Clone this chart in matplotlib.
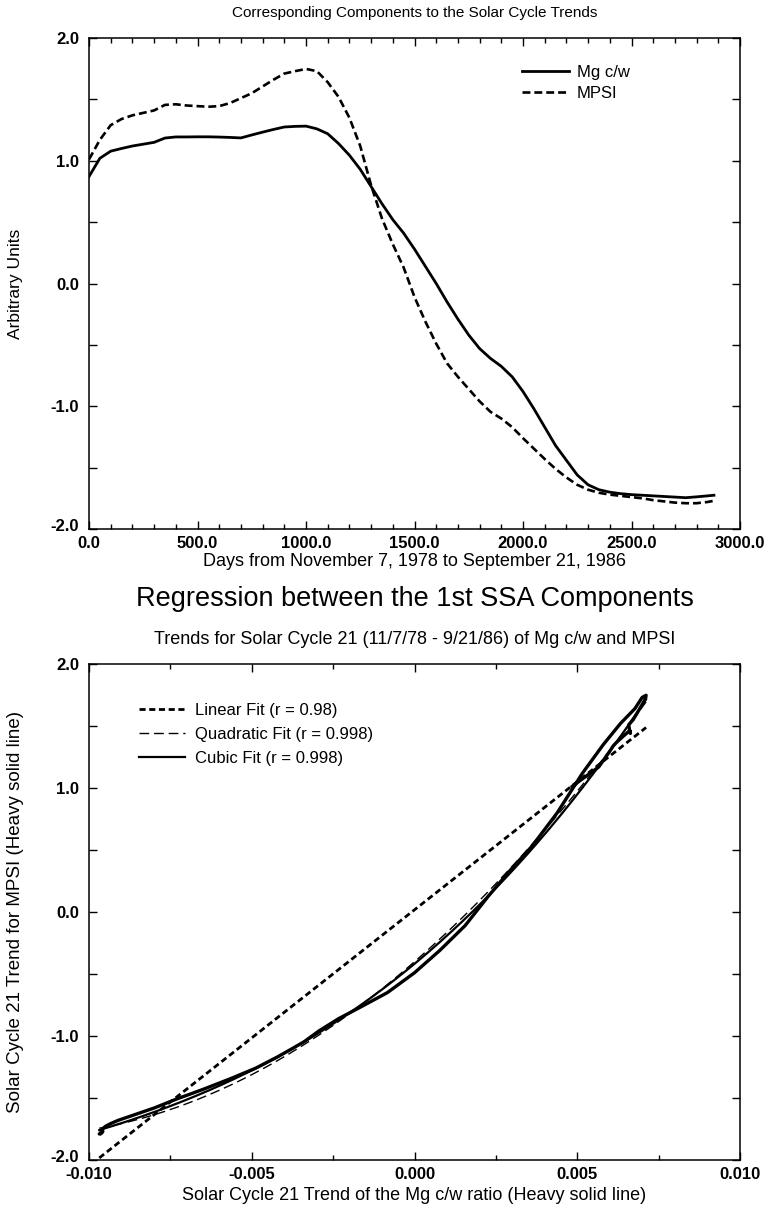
import numpy as np
import matplotlib
matplotlib.use("Agg")
import matplotlib.pyplot as plt
from matplotlib.ticker import MultipleLocator, FormatStrFormatter
from matplotlib.transforms import ScaledTranslation

plt.rcParams['font.family'] = ['Liberation Sans', 'DejaVu Sans']

# ---------------- data ----------------
DAYS = [0, 50, 100, 150, 200, 250, 300, 350, 400, 450, 500, 550, 600, 650, 700,
        750, 800, 850, 900, 950, 1000, 1050, 1100, 1150, 1200, 1250, 1300, 1350,
        1400, 1450, 1500, 1550, 1600, 1650, 1700, 1750, 1800, 1850, 1900, 1950,
        2000, 2050, 2100, 2150, 2200, 2250, 2300, 2350, 2400, 2450, 2500, 2550,
        2600, 2650, 2700, 2750, 2800, 2850, 2880]

MG_CW = [0.871, 1.02, 1.078, 1.10, 1.12, 1.135, 1.15, 1.185, 1.194, 1.194, 1.195,
         1.195, 1.193, 1.19, 1.186, 1.21, 1.233, 1.255, 1.275, 1.28, 1.282, 1.26,
         1.22, 1.14, 1.045, 0.93, 0.79, 0.65, 0.52, 0.41, 0.28, 0.14, 0.0,
         -0.15, -0.29, -0.42, -0.53, -0.61, -0.675, -0.76, -0.88, -1.02, -1.17,
         -1.32, -1.44, -1.56, -1.64, -1.68, -1.70, -1.712, -1.72, -1.725, -1.73,
         -1.735, -1.74, -1.745, -1.738, -1.73, -1.725]

MPSI = [1.011, 1.17, 1.29, 1.34, 1.37, 1.39, 1.41, 1.455, 1.46, 1.45, 1.445, 1.44,
        1.445, 1.47, 1.51, 1.55, 1.605, 1.66, 1.71, 1.73, 1.748, 1.73, 1.64, 1.52,
        1.35, 1.12, 0.80, 0.53, 0.32, 0.13, -0.11, -0.31, -0.49, -0.65, -0.76,
        -0.86, -0.96, -1.045, -1.10, -1.17, -1.26, -1.345, -1.43, -1.51, -1.58,
        -1.64, -1.68, -1.705, -1.72, -1.73, -1.74, -1.75, -1.765, -1.775, -1.785,
        -1.79, -1.79, -1.78, -1.77]

# conversion of the arbitrary-unit Mg c/w trend to the Mg c/w ratio units
MG_RATIO_SCALE = 0.00555

TOP_LEGEND = ["Mg c/w", "MPSI"]
FIT_LABELS = ["Linear Fit (r = 0.98)", "Quadratic Fit (r = 0.998)", "Cubic Fit (r = 0.998)"]
FIT_DEGREES = [1, 2, 3]

TOP_XTICKS = [0, 500, 1000, 1500, 2000, 2500, 3000]
TOP_YTICKS = [-2, -1, 0, 1, 2]
BOT_XTICKS = [-0.010, -0.005, 0.0, 0.005, 0.010]
BOT_YTICKS = [-2, -1, 0, 1, 2]

# ---------------- figure ----------------
W, H = 769, 1212
fig = plt.figure(figsize=(W / 100, H / 100), dpi=100)

def fx(px):
    return px / W

def fy(py):
    return 1 - py / H

L, R = 89, 740
ax1 = fig.add_axes([fx(L), fy(529), fx(R) - fx(L), fy(38) - fy(529)])
ax2 = fig.add_axes([fx(L), fy(1160), fx(R) - fx(L), fy(664) - fy(1160)])

days = np.array(DAYS, dtype=float)
mg = np.array(MG_CW)
mpsi = np.array(MPSI)

# top panel
ax1.plot(days, mg, color='black', lw=2.0, solid_joinstyle='round', label=TOP_LEGEND[0])
ax1.plot(days, mpsi, color='black', lw=1.9, linestyle=(0, (3.0, 1.5)), label=TOP_LEGEND[1])
ax1.set_xlim(0, 3000)
ax1.set_ylim(-2, 2)
ax1.set_xticks(TOP_XTICKS)
ax1.set_yticks(TOP_YTICKS)
ax1.xaxis.set_minor_locator(MultipleLocator(100))
ax1.yaxis.set_minor_locator(MultipleLocator(0.5))
ax1.xaxis.set_major_formatter(FormatStrFormatter('%.1f'))
ax1.yaxis.set_major_formatter(FormatStrFormatter('%.1f'))

# bottom panel
x_ratio = mg * MG_RATIO_SCALE
xs = np.linspace(x_ratio.min(), x_ratio.max(), 300)
fit_styles = [dict(lw=2.0, linestyle=(0, (2.2, 1.3))),
              dict(lw=1.0, linestyle=(0, (7, 3.5))),
              dict(lw=1.6, linestyle='-')]
for deg, lab, st in zip(FIT_DEGREES, FIT_LABELS, fit_styles):
    coef = np.polyfit(x_ratio, mpsi, deg)
    ax2.plot(xs, np.polyval(coef, xs), color='black', label=lab, **st)
ax2.plot(x_ratio, mpsi, color='black', lw=2.4, solid_joinstyle='round',
         solid_capstyle='round')
ax2.set_xlim(-0.010, 0.010)
ax2.set_ylim(-2, 2)
ax2.set_xticks(BOT_XTICKS)
ax2.set_yticks(BOT_YTICKS)
ax2.xaxis.set_minor_locator(MultipleLocator(0.0025))
ax2.yaxis.set_minor_locator(MultipleLocator(0.5))
ax2.xaxis.set_major_formatter(FormatStrFormatter('%.3f'))
ax2.yaxis.set_major_formatter(FormatStrFormatter('%.1f'))

for ax in (ax1, ax2):
    ax.tick_params(which='both', direction='in', top=True, right=True, width=1.0)
    ax.tick_params(which='major', length=6)
    ax.tick_params(axis='x', which='minor', length=3.5)
    ax.tick_params(axis='y', which='minor', length=6)
    ax.tick_params(axis='y', which='major', pad=7)
    ax.tick_params(axis='x', which='major', pad=5)
    for lab in ax.get_xticklabels() + ax.get_yticklabels():
        lab.set_fontsize(12)
        lab.set_fontweight('bold')
    for sp in ax.spines.values():
        sp.set_linewidth(1.1)
    # lift the lowest y label slightly so it clears the first x label
    low = ax.get_yticklabels()[0]
    low.set_transform(low.get_transform() + ScaledTranslation(0, 3 / 72, fig.dpi_scale_trans))

# legends
ax1.legend(loc='upper left', bbox_to_anchor=(0.655, 0.958), frameon=False,
           fontsize=12, handlelength=2.8, handletextpad=0.5, labelspacing=0.35,
           borderaxespad=0)
handles, labels = ax2.get_legend_handles_labels()
ax2.legend(handles[:3], labels[:3], loc='upper left', bbox_to_anchor=(0.066, 0.935),
           frameon=False, fontsize=12, handlelength=2.8, handletextpad=0.6,
           labelspacing=0.55, borderaxespad=0)

# texts
cx = fx((L + R) / 2)
fig.text(cx, fy(13), "Corresponding Components to the Solar Cycle Trends",
         ha='center', va='center', fontsize=11)
fig.text(cx, fy(562), "Days from November 7, 1978 to September 21, 1986",
         ha='center', va='center', fontsize=13)
fig.text(cx, fy(599), "Regression between the 1st SSA Components",
         ha='center', va='center', fontsize=19.5)
fig.text(cx, fy(640), "Trends for Solar Cycle 21 (11/7/78 - 9/21/86) of Mg c/w and MPSI",
         ha='center', va='center', fontsize=13)
fig.text(cx, fy(1196), "Solar Cycle 21 Trend of the Mg c/w ratio (Heavy solid line)",
         ha='center', va='center', fontsize=13)
fig.text(fx(16), fy(284), "Arbitrary Units", rotation=90,
         ha='center', va='center', fontsize=12.5)
fig.text(fx(16), fy(912), "Solar Cycle 21 Trend for MPSI (Heavy solid line)", rotation=90,
         ha='center', va='center', fontsize=13.5)

fig.savefig("out.png", dpi=100)
